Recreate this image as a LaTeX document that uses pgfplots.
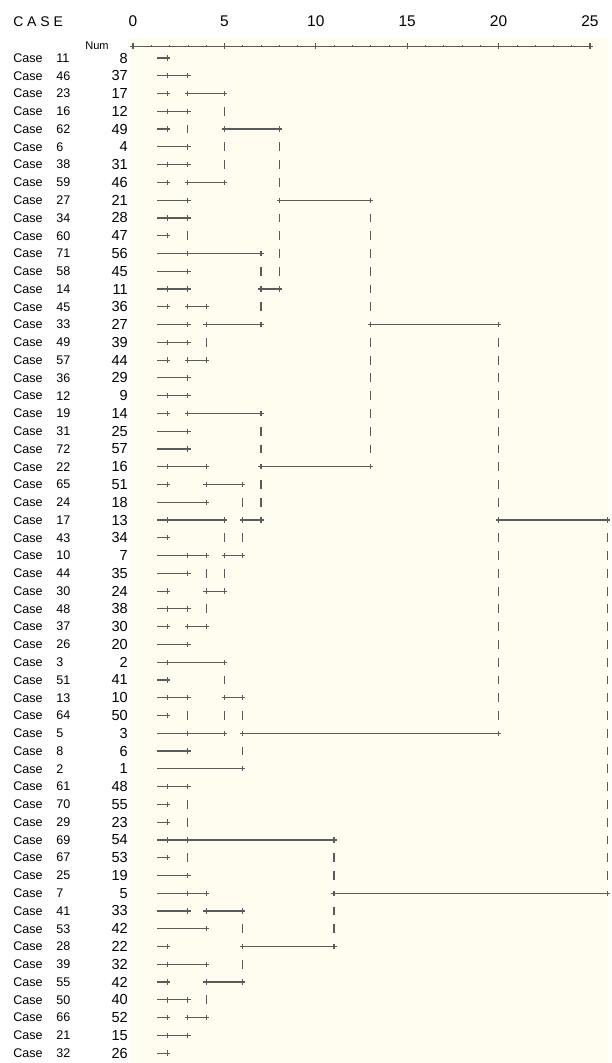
\documentclass[border=0pt]{standalone}
\usepackage{pgfplots}
\pgfplotsset{compat=1.18}
\usepackage{pgfplotstable}
\usepackage{fontspec}
\setmainfont{Liberation Sans}
\definecolor{cream}{RGB}{255,253,240}
\definecolor{ink}{RGB}{90,90,90}

% rows of the dendrogram: case label and its number
\pgfplotstableread{
row case num
1 11 8
2 46 37
3 23 17
4 16 12
5 62 49
6 6 4
7 38 31
8 59 46
9 27 21
10 34 28
11 60 47
12 71 56
13 58 45
14 14 11
15 45 36
16 33 27
17 49 39
18 57 44
19 36 29
20 12 9
21 19 14
22 31 25
23 72 57
24 22 16
25 65 51
26 24 18
27 17 13
28 43 34
29 10 7
30 44 35
31 30 24
32 48 38
33 37 30
34 26 20
35 3 2
36 51 41
37 13 10
38 64 50
39 5 3
40 8 6
41 2 1
42 61 48
43 70 55
44 29 23
45 69 54
46 67 53
47 25 19
48 7 5
49 41 33
50 53 42
51 28 22
52 39 32
53 55 42
54 50 40
55 66 52
56 21 15
57 32 26
}\casetab

% horizontal segments: row, from, to (rescaled distance)
\pgfplotstableread{
y x1 x2
1 1.3 1.9
2 1.3 3
3 1.3 1.9
3 3 5
4 1.3 3
5 1.3 1.9
5 5 8
6 1.3 3
7 1.3 3
8 1.3 1.9
8 3 5
9 1.3 3
9 8 13
10 1.3 3
11 1.3 1.9
12 1.3 7
13 1.3 3
14 1.3 3
14 7 8
15 1.3 1.9
15 3 4
16 1.3 3
16 4 7
16 13 20
17 1.3 3
18 1.3 1.9
18 3 4
19 1.3 3
20 1.3 3
21 1.3 1.9
21 3 7
22 1.3 3
23 1.3 3
24 1.3 4
24 7 13
25 1.3 1.9
25 4 6
26 1.3 4
27 1.3 5
27 6 7
27 20 25.95
28 1.3 1.9
29 1.3 4
29 5 6
30 1.3 3
31 1.3 1.9
31 4 5
32 1.3 3
33 1.3 1.9
33 3 4
34 1.3 3
35 1.3 5
36 1.3 1.9
37 1.3 3
37 5 6
38 1.3 1.9
39 1.3 5
39 6 20
40 1.3 3
41 1.3 6
42 1.3 3
43 1.3 1.9
44 1.3 1.9
45 1.3 11
46 1.3 1.9
47 1.3 3
48 1.3 4
48 11 25.95
49 1.3 3
49 4 6
50 1.3 4
51 1.3 1.9
51 6 11
52 1.3 4
53 1.3 1.9
53 4 6
54 1.3 3
55 1.3 1.9
55 3 4
56 1.3 3
57 1.3 1.9
}\hsegs

\begin{document}
\begin{tikzpicture}
\begin{axis}[
    scale only axis,
    width=456.75pt, height=797.25pt,
    xmin=-7.276, xmax=26.04,
    ymin=-2.264, ymax=57.555,
    y dir=reverse,
    axis lines=none, ticks=none,
    clip=false,
]
% page and plot-area background
\addplot[fill=white, draw=none] coordinates {(-7.276,-2.264) (26.04,-2.264) (26.04,57.555) (-7.276,57.555)} -- cycle;
\addplot[fill=cream, draw=none] coordinates {(-0.22,-0.12) (26.04,-0.12) (26.04,57.555) (-0.22,57.555)} -- cycle;

% scale line
\addplot[ink, line width=0.8pt] coordinates {(0,0.33) (25,0.33)};
\addplot[ink, only marks, mark=+, mark size=2.3pt, line width=0.8pt]
  coordinates {(0,0.33) (5,0.33) (10,0.33) (15,0.33) (20,0.33) (25,0.33)};
\addplot[ink, only marks, mark=|, mark size=0.9pt, line width=0.5pt]
  coordinates {(1,0.33) (2,0.33) (3,0.33) (4,0.33) (6,0.33) (7,0.33) (8,0.33) (9,0.33)
  (11,0.33) (12,0.33) (13,0.33) (14,0.33) (16,0.33) (17,0.33) (18,0.33) (19,0.33)
  (21,0.33) (22,0.33) (23,0.33) (24,0.33)};
\addplot[draw=none, mark=none, point meta=explicit symbolic,
  nodes near coords={\pgfplotspointmeta},
  nodes near coords style={anchor=center, inner sep=0pt, text=black, font=\fontsize{11.6}{12}\selectfont}]
  coordinates {(0,-1.05)[0] (5,-1.05)[5] (10,-1.05)[10] (15,-1.05)[15] (20,-1.05)[20] (25,-1.05)[25]};

% horizontal links
\addplot[draw=none, mark=none,
  error bars/.cd, x dir=plus, x explicit, error mark=none,
  error bar style={draw=ink, solid, line width=0.9pt}]
  table[x=x1, y=y, x error expr=\thisrow{x2}-\thisrow{x1}] {\hsegs};

% junctions
\addplot[ink, only marks, mark=+, mark size=2pt, line width=0.9pt] coordinates {
(1.9,1)
(1.9,2)(3,2)
(1.9,3)(3,3)(5,3)
(1.9,4)(3,4)
(1.9,5)(5,5)(8,5)
(3,6)
(1.9,7)(3,7)
(1.9,8)(3,8)(5,8)
(3,9)(8,9)(13,9)
(1.9,10)(3,10)
(1.9,11)
(3,12)(7,12)
(3,13)
(1.9,14)(3,14)(7,14)(8,14)
(1.9,15)(3,15)(4,15)
(3,16)(4,16)(7,16)(13,16)(20,16)
(1.9,17)(3,17)
(1.9,18)(3,18)(4,18)
(3,19)
(1.9,20)(3,20)
(1.9,21)(3,21)(7,21)
(3,22)
(3,23)
(1.9,24)(4,24)(7,24)(13,24)
(1.9,25)(4,25)(6,25)
(4,26)
(1.9,27)(5,27)(6,27)(7,27)(20,27)(25.95,27)
(1.9,28)
(3,29)(4,29)(5,29)(6,29)
(3,30)
(1.9,31)(4,31)(5,31)
(1.9,32)(3,32)
(1.9,33)(3,33)(4,33)
(3,34)
(1.9,35)(5,35)
(1.9,36)
(1.9,37)(3,37)(5,37)(6,37)
(1.9,38)
(3,39)(5,39)(6,39)(20,39)
(3,40)
(6,41)
(1.9,42)(3,42)
(1.9,43)
(1.9,44)
(1.9,45)(3,45)(11,45)
(1.9,46)
(3,47)
(3,48)(4,48)(11,48)(25.95,48)
(3,49)(4,49)(6,49)
(4,50)
(1.9,51)(6,51)(11,51)
(1.9,52)(4,52)
(1.9,53)(4,53)(6,53)
(1.9,54)(3,54)
(1.9,55)(3,55)(4,55)
(1.9,56)(3,56)
(1.9,57)
};

% vertical pipes
\addplot[ink, only marks, mark=|, mark size=3.3pt, line width=0.9pt] coordinates {
(5,4)
(3,5)
(5,6)(8,6)
(5,7)(8,7)
(8,8)
(8,10)(13,10)
(3,11)(8,11)(13,11)
(8,12)(13,12)
(7,13)(8,13)(13,13)
(13,14)
(7,15)(13,15)
(4,17)(13,17)(20,17)
(13,18)(20,18)
(13,19)(20,19)
(13,20)(20,20)
(13,21)(20,21)
(7,22)(13,22)(20,22)
(7,23)(13,23)(20,23)
(20,24)
(7,25)(20,25)
(6,26)(7,26)(20,26)
(5,28)(6,28)(20,28)(25.95,28)
(20,29)(25.95,29)
(4,30)(5,30)(20,30)(25.95,30)
(20,31)(25.95,31)
(4,32)(20,32)(25.95,32)
(20,33)(25.95,33)
(20,34)(25.95,34)
(20,35)(25.95,35)
(5,36)(20,36)(25.95,36)
(20,37)(25.95,37)
(3,38)(5,38)(6,38)(20,38)(25.95,38)
(25.95,39)
(6,40)(25.95,40)
(25.95,41)
(25.95,42)
(3,43)(25.95,43)
(3,44)(25.95,44)
(25.95,45)
(3,46)(11,46)(25.95,46)
(11,47)(25.95,47)
(11,49)
(6,50)(11,50)
(6,52)
(4,54)
};

% row labels
\addplot[draw=none, mark=none, nodes near coords={Case},
  nodes near coords style={anchor=west, inner sep=0pt, text=black, font=\fontsize{9.4}{10}\selectfont}]
  table[x expr=-6.565, y=row] {\casetab};
\addplot[draw=none, mark=none, point meta=explicit symbolic,
  nodes near coords={\pgfplotspointmeta},
  nodes near coords style={anchor=west, inner sep=0pt, text=black, font=\fontsize{9.4}{10}\selectfont}]
  table[x expr=-4.21, y=row, meta=case] {\casetab};
\addplot[draw=none, mark=none, point meta=explicit symbolic,
  nodes near coords={\pgfplotspointmeta},
  nodes near coords style={anchor=east, inner sep=0pt, text=black, font=\fontsize{10.9}{12}\selectfont}]
  table[x expr=-0.27, y=row, meta=num] {\casetab};

\node[anchor=west, inner sep=0pt, font=\fontsize{10.5}{12}\selectfont] at (axis cs:-6.565,-1.05) {C A S E};
\node[anchor=center, inner sep=0pt, font=\fontsize{8.3}{9}\selectfont] at (axis cs:-1.97,0.33) {Num};
\end{axis}
\end{tikzpicture}
\end{document}
